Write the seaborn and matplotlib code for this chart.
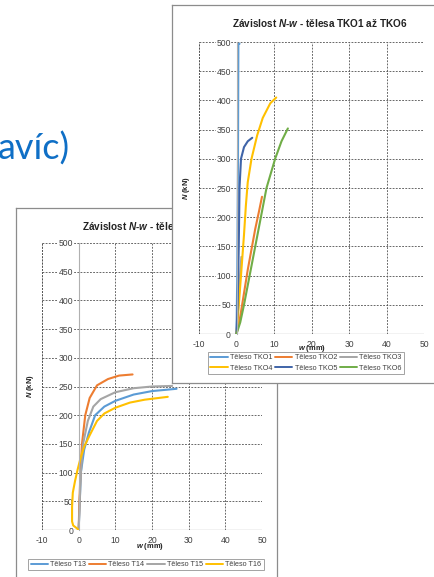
import numpy as np
import pandas as pd
import matplotlib
matplotlib.use("Agg")
import matplotlib.pyplot as plt
from matplotlib.lines import Line2D
import seaborn as sns

# --- Data ---
# back chart: tělesa TKO1 až TKO6
tko1_w = [0.0, 0.2, 0.3, 0.4, 0.45, 0.5, 0.8]
tko1_n = [0, 100, 200, 300, 400, 497, 497]
tko2_w = [0.0, 1.0, 2.0, 3.0, 4.0, 5.0, 6.0, 6.8]
tko2_n = [0, 30, 70, 110, 145, 180, 210, 235]
tko3_w = [0.0, 0.4, 0.8, 1.1, 1.3]
tko3_n = [0, 40, 85, 115, 132]
tko4_w = [0.0, 0.5, 1.2, 2.0, 2.5, 3.0, 4.0, 5.5, 7.0, 9.0, 10.6]
tko4_n = [0, 40, 100, 170, 220, 260, 300, 340, 370, 395, 405]
tko5_w = [0.0, 0.3, 0.6, 0.8, 1.2, 2.0, 3.0, 4.2]
tko5_n = [0, 50, 150, 250, 300, 320, 330, 336]
tko6_w = [0.0, 1.0, 2.0, 3.5, 5.0, 6.5, 8.0, 10.3, 12.0, 13.7]
tko6_n = [0, 20, 50, 100, 150, 200, 250, 300, 330, 352]

# front chart: tělesa T13 až T16
t13_w = [0.0, 0.3, 0.6, 1.5, 2.8, 4.5, 7.0, 10.0, 15.0, 20.0, 26.7]
t13_n = [0, 50, 100, 140, 170, 200, 215, 225, 236, 242, 246]
t14_w = [0.0, 0.2, 0.5, 0.9, 1.8, 3.0, 5.0, 8.0, 11.0, 14.7]
t14_n = [0, 50, 100, 150, 200, 230, 252, 263, 269, 271]
t15_w = [0.0, 0.3, 0.6, 1.2, 2.5, 4.0, 6.0, 10.0, 15.0, 20.0, 25.5]
t15_n = [0, 50, 100, 150, 190, 215, 228, 240, 247, 250, 251]
t16_w = [0.0, -0.5, -1.5, -1.8, -1.8, -1.6, -1.0, -0.3, 0.5, 1.5, 3.0, 5.0, 7.0, 10.0, 14.0, 18.0, 24.3]
t16_n = [0, 3, 8, 15, 40, 65, 85, 105, 125, 145, 165, 190, 203, 213, 222, 227, 232]

tko_names = ["Těleso TKO1", "Těleso TKO2", "Těleso TKO3", "Těleso TKO4", "Těleso TKO5", "Těleso TKO6"]
tko_colors = ["#5B9BD5", "#ED7D31", "#A5A5A5", "#FFC000", "#3F64A8", "#70AD47"]
t_names = ["Těleso T13", "Těleso T14", "Těleso T15", "Těleso T16"]
t_colors = ["#5B9BD5", "#ED7D31", "#A5A5A5", "#FFC000"]

x_ticks = [-10, 0, 10, 20, 30, 40, 50]
y_ticks = [0, 50, 100, 150, 200, 250, 300, 350, 400, 450, 500]


def long_df(names, ws, ns):
    parts = []
    for name, w, n in zip(names, ws, ns):
        parts.append(pd.DataFrame({"w": w, "N": n, "teleso": name}))
    return pd.concat(parts, ignore_index=True)


tko_df = long_df(tko_names, [tko1_w, tko2_w, tko3_w, tko4_w, tko5_w, tko6_w],
                 [tko1_n, tko2_n, tko3_n, tko4_n, tko5_n, tko6_n])
t_df = long_df(t_names, [t13_w, t14_w, t15_w, t16_w], [t13_n, t14_n, t15_n, t16_n])

# --- Style ---
sns.set_style("white")
plt.rcParams["font.family"] = ["Liberation Sans", "DejaVu Sans"]
plt.rcParams["mathtext.fontset"] = "custom"
plt.rcParams["mathtext.bf"] = "Liberation Sans:italic:bold"
plt.rcParams["axes.unicode_minus"] = False

W, H = 434, 577
fig = plt.figure(figsize=(W / 100, H / 100), dpi=100)
fig.patch.set_facecolor("white")


def box(l, t, r, b, z):
    ax = fig.add_axes([l / W, 1 - b / H, (r - l) / W, (b - t) / H])
    ax.set_zorder(z)
    return ax


def fx(x):
    return x / W


def fy(y):
    return 1 - y / H


TXT = "#404040"


def make_chart(frame, plot, df, names, colors, title_xy, title_rest, ylab_xy, xlab_xy, leg_xy, ncol, z):
    fr = box(*frame, z)
    fr.set_facecolor("white")
    fr.set_xticks([])
    fr.set_yticks([])
    for s in fr.spines.values():
        s.set_color("#8c8c8c")
        s.set_linewidth(0.9)

    fr.text(fx(title_xy[0]), fy(title_xy[1]), "Závislost $\\mathbf{N}$-$\\mathbf{w}$ - " + title_rest,
            transform=fig.transFigure, ha="left", va="center", fontsize=7.2,
            fontweight="bold", color="#222222")
    fr.text(fx(ylab_xy[0]), fy(ylab_xy[1]), "$\\mathbf{N}$ (kN)", transform=fig.transFigure,
            rotation=90, ha="center", va="center", fontsize=5.4, fontweight="bold", color="#222222")

    ax = box(*plot, z + 0.5)
    ax.set_facecolor("none")
    sns.lineplot(data=df, x="w", y="N", hue="teleso", palette=dict(zip(names, colors)),
                 sort=False, estimator=None, units="teleso", linewidth=1.5, legend=False, ax=ax)
    ax.set_xlim(-10, 50)
    ax.set_ylim(0, 500)
    ax.set_xticks(x_ticks)
    ax.set_yticks(y_ticks)
    ax.grid(True, color="#505050", linestyle=(0, (2.2, 1.6)), linewidth=0.6)
    ax.axvline(-10, color="#505050", linestyle=(0, (2.2, 1.6)), linewidth=0.6, zorder=0.5)
    ax.axhline(0, color="#9a9a9a", linewidth=0.9, zorder=0.5)
    for s in ax.spines.values():
        s.set_visible(False)
    # value axis crosses at w = 0, labels sit next to it
    ax.spines["left"].set_visible(True)
    ax.spines["left"].set_position(("data", 0))
    ax.spines["left"].set_color("#b0b0b0")
    ax.spines["left"].set_linewidth(0.8)
    ax.tick_params(axis="both", labelsize=6.2, colors=TXT, length=2.5, width=0.5, pad=1.5)
    for lab in ax.get_yticklabels():
        lab.set_bbox(dict(facecolor="white", edgecolor="none", pad=0.4))
    ax.set_xlabel("")
    ax.set_ylabel("")

    fr.text(fx(xlab_xy[0]), fy(xlab_xy[1]), "$\\mathbf{w}$ (mm)", transform=fig.transFigure,
            ha="center", va="center", fontsize=5.4, fontweight="bold", color="#222222")

    handles = [Line2D([], [], color=c, linewidth=1.4) for c in colors]
    labels = list(names)
    if ncol == 3:
        order = [0, 3, 1, 4, 2, 5]
        handles = [handles[i] for i in order]
        labels = [labels[i] for i in order]
    leg = ax.legend(handles, labels, loc="upper center", bbox_to_anchor=(fx(leg_xy[0]), fy(leg_xy[1])),
                    bbox_transform=fig.transFigure, ncol=ncol, fontsize=5.2, frameon=True,
                    fancybox=False, handlelength=2.4, handletextpad=0.3, columnspacing=0.4,
                    borderpad=0.3, labelspacing=0.5, borderaxespad=0)
    leg.get_frame().set_edgecolor("#8c8c8c")
    leg.get_frame().set_linewidth(0.7)
    for t in leg.get_texts():
        t.set_color(TXT)
    return fr, ax


# front-left chart (sits behind)
make_chart((16, 208, 277, 600), (42, 243, 262, 530), t_df, t_names, t_colors,
           (82, 226), "tělesa T13 až T16", (30, 386), (150, 547), (146, 559), 4, 1)

# right chart (on top)
make_chart((172, 5, 437, 383), (199, 42, 424, 334), tko_df, tko_names, tko_colors,
           (232, 23), "tělesa TKO1 až TKO6", (186, 188), (312, 348), (306, 352), 3, 3)

# slide heading fragment
fig.text(fx(-2), fy(160), "avíc)", fontsize=26, color="#0F6FC6",
         family=["Lato", "DejaVu Sans"], ha="left", va="baseline")

fig.savefig("out.png", dpi=100, facecolor="white")
